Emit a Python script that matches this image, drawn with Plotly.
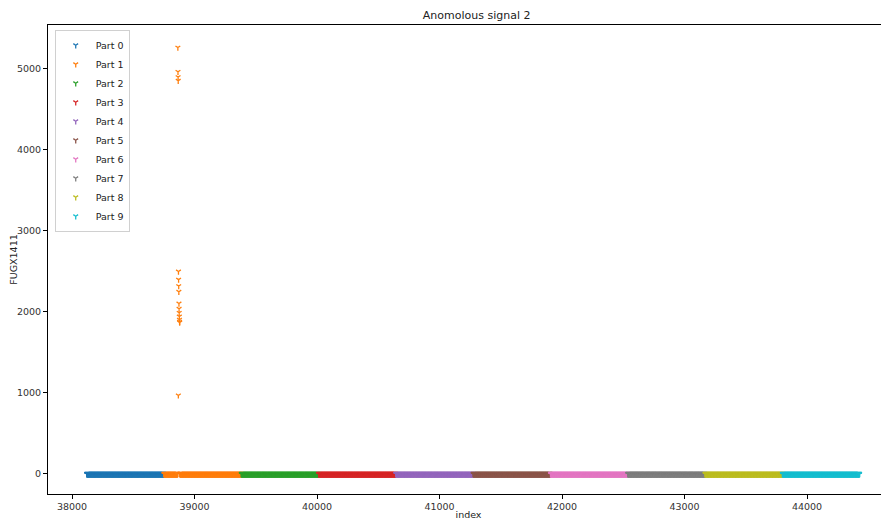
import plotly.graph_objects as go

# ---- data ----
part_names = [f"Part {i}" for i in range(10)]
part_starts = [38120, 38751, 39382, 40013, 40644, 41275, 41906, 42537, 43168, 43799]
part_lengths = [631, 631, 631, 631, 631, 631, 631, 631, 631, 631]
baseline_value = 0  # all visible points sit on 0 except the Part 1 spikes

# anomalous readings inside Part 1 (index, value)
spike_index = [38864, 38865, 38866, 38867, 38868, 38869, 38870, 38871,
               38872, 38873, 38874, 38875, 38876, 38877, 38878, 38879]
spike_value = [5265, 4965, 4900, 4855, 970, 2500, 2400, 2320,
               2250, 2105, 2040, 1990, 1945, 1905, 1880, 1870]

colors = ["#1f77b4", "#ff7f0e", "#2ca02c", "#d62728", "#9467bd",
          "#8c564b", "#e377c2", "#7f7f7f", "#bcbd22", "#17becf"]

title_text = "Anomolous signal 2"
x_title = "index"
y_title = "FUGX1411"
x_tickvals = [38000, 39000, 40000, 41000, 42000, 43000, 44000]
y_tickvals = [0, 1000, 2000, 3000, 4000, 5000]

spikes = dict(zip(spike_index, spike_value))

fig = go.Figure()
for name, start, n, col in zip(part_names, part_starts, part_lengths, colors):
    xs = list(range(start, start + n))
    ys = [spikes.get(x, baseline_value) for x in xs]
    fig.add_trace(go.Scatter(
        x=xs, y=ys, mode="markers", name=name,
        marker=dict(symbol="y-down", size=4, color=col,
                    line=dict(color=col, width=1.3)),
    ))

# the page places the figure 8px in from the top-left corner (body margin)
font_family = "DejaVu Sans, sans-serif"
fig.update_layout(
    width=881, height=512,
    margin=dict(l=40, r=0, t=17, b=26, autoexpand=False),
    paper_bgcolor="white", plot_bgcolor="white",
    font=dict(family=font_family, size=9.5, color="#333"),
    title=dict(text=title_text, x=0.532, xanchor="center", y=0.986, yanchor="middle",
               yref="container", font=dict(size=11, color="#222", family=font_family)),
    showlegend=True,
    legend=dict(x=0.008, y=0.99, xanchor="left", yanchor="top",
                bgcolor="rgba(255,255,255,0.8)", bordercolor="#d0d0d0", borderwidth=1,
                font=dict(size=9.5, color="#222", family=font_family),
                tracegroupgap=0, itemwidth=30),
    xaxis=dict(range=[37804, 44669], tickvals=x_tickvals, tickformat="d",
               showgrid=False, zeroline=False, automargin=False,
               showline=True, linecolor="black", linewidth=1, mirror=True,
               ticks="outside", ticklen=4, tickcolor="black",
               title=dict(text=x_title, standoff=0, font=dict(size=9.5, color="#222"))),
    yaxis=dict(range=[-247, 5543], tickvals=y_tickvals, tickformat="d",
               showgrid=False, zeroline=False, automargin=False,
               showline=True, linecolor="black", linewidth=1,
               ticks="outside", ticklen=4, tickcolor="black",
               title=dict(text=y_title, standoff=6, font=dict(size=9.5, color="#222"))),
)

fig.write_html("out.html")
